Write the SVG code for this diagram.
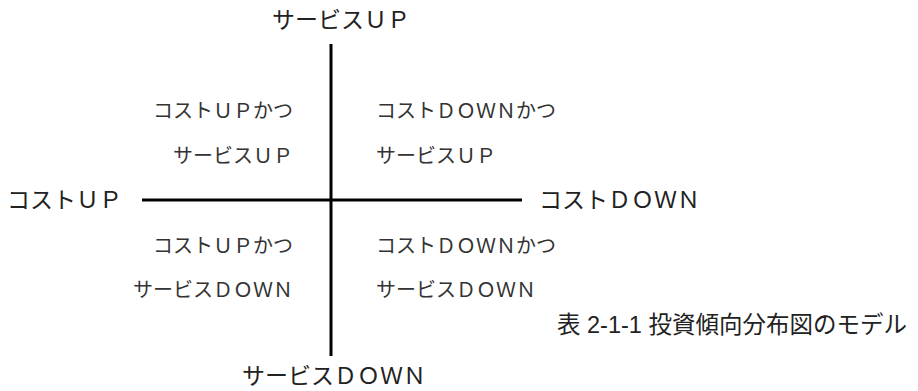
<svg xmlns="http://www.w3.org/2000/svg" width="918" height="391" viewBox="0 0 918 391">
<style>
text{font-family:"Noto Sans CJK JP","Noto Sans",sans-serif;fill:#222}
.o{font-size:23px}
.i{font-size:20px;fill:#333}
.cap{font-family:"Liberation Sans","Noto Sans CJK JP",sans-serif;font-size:23.5px;fill:#222}
.ax{stroke:#000;stroke-width:3;fill:none}
</style>
<rect width="918" height="391" fill="#fff"/>
<g id="connectors">
<line class="ax" x1="331" y1="44" x2="331" y2="356"/>
<line class="ax" x1="142" y1="200" x2="522" y2="200"/>
</g>
<g id="service-up"><text class="o" x="341" y="28" text-anchor="middle">サービスＵＰ</text></g>
<g id="service-down"><text class="o" x="334" y="384" text-anchor="middle">サービスＤＯＷＮ</text></g>
<g id="cost-up"><text class="o" x="7" y="208">コストＵＰ</text></g>
<g id="cost-down"><text class="o" x="539" y="208">コストＤＯＷＮ</text></g>
<g id="q-tl">
<text class="i" x="293" y="118" text-anchor="end">コストＵＰかつ</text>
<text class="i" x="293" y="163" text-anchor="end">サービスＵＰ</text>
</g>
<g id="q-tr">
<text class="i" x="376" y="118">コストＤＯＷＮかつ</text>
<text class="i" x="376" y="163">サービスＵＰ</text>
</g>
<g id="q-bl">
<text class="i" x="293" y="253" text-anchor="end">コストＵＰかつ</text>
<text class="i" x="293" y="297" text-anchor="end">サービスＤＯＷＮ</text>
</g>
<g id="q-br">
<text class="i" x="376" y="253">コストＤＯＷＮかつ</text>
<text class="i" x="376" y="297">サービスＤＯＷＮ</text>
</g>
<g id="caption"><text class="cap" x="557" y="333">表 2-1-1 投資傾向分布図のモデル</text></g>
</svg>
